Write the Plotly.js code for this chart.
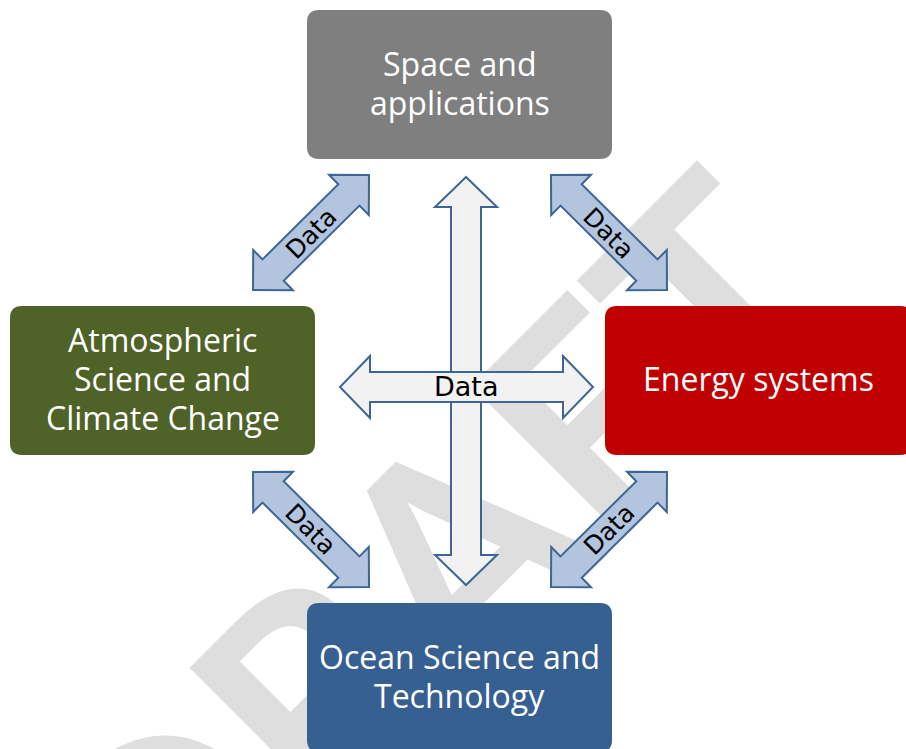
<!DOCTYPE html>
<html>
<head>
<meta charset="utf-8">
<script src="https://cdn.plot.ly/plotly-3.0.1.min.js"></script>
<style>
  html, body { margin: 0; padding: 0; background: #ffffff; }
  #chart { width: 906px; height: 749px; }
</style>
</head>
<body>
<div id="chart"></div>
<script>
// ---- content ----
const nodeLabels = [
  ["Space and", "applications"],
  ["Atmospheric", "Science and", "Climate Change"],
  ["Energy systems"],
  ["Ocean Science and", "Technology"]
];
const nodeColors = ["#7f7f7f", "#4f6228", "#c00000", "#376092"];
const linkLabels = ["Data", "Data", "Data", "Data", "Data"];
const watermarkText = "DRAFT";

// ---- geometry (layout of the diagram, in pixel-like axis units) ----
const boxes = [
  { x0: 307, y0: 10,  x1: 612, y1: 159 },
  { x0: 10,  y0: 306, x1: 315, y1: 455 },
  { x0: 605, y0: 306, x1: 912, y1: 455 },
  { x0: 307, y0: 603, x1: 612, y1: 752 }
];
const lineGap = 39;
const textLift = 2;
const diagArrows = [
  { a: [369, 175], b: [253, 290], label: [311, 233], angle: -45 },
  { a: [551, 175], b: [667, 290], label: [609, 233], angle: 45 },
  { a: [253, 472], b: [369, 587], label: [311, 529], angle: 45 },
  { a: [667, 472], b: [551, 587], label: [609, 529], angle: -45 }
];
const crossArrows = [
  { a: [466, 177], b: [466, 585], w: 15, h: 31, L: 30 },
  { a: [340, 387], b: [593, 387], w: 15, h: 31, L: 30 }
];

function roundRect(b, r) {
  const { x0, y0, x1, y1 } = b;
  return `M ${x0 + r},${y0} L ${x1 - r},${y0} Q ${x1},${y0} ${x1},${y0 + r} ` +
         `L ${x1},${y1 - r} Q ${x1},${y1} ${x1 - r},${y1} L ${x0 + r},${y1} ` +
         `Q ${x0},${y1} ${x0},${y1 - r} L ${x0},${y0 + r} Q ${x0},${y0} ${x0 + r},${y0} Z`;
}
function arrowPath(p1, p2, w, h, L) {
  const dx = p2[0] - p1[0], dy = p2[1] - p1[1];
  const len = Math.hypot(dx, dy);
  const ux = dx / len, uy = dy / len, nx = -uy, ny = ux;
  const P = (p, s, t) => [p[0] + s * ux + t * nx, p[1] + s * uy + t * ny];
  const pts = [
    p1, P(p1, L, h), P(p1, L, w), P(p2, -L, w), P(p2, -L, h),
    p2, P(p2, -L, -h), P(p2, -L, -w), P(p1, L, -w), P(p1, L, -h)
  ];
  return "M " + pts.map(p => p[0].toFixed(1) + "," + p[1].toFixed(1)).join(" L ") + " Z";
}

const shapes = [];
// watermark (behind everything)
shapes.push({
  type: "rect", xref: "x", yref: "y", layer: "below",
  x0: 414, x1: 434, y0: 559, y1: 579,
  line: { width: 0 }, fillcolor: "rgba(0,0,0,0)",
  label: {
    text: watermarkText, textangle: -45, textposition: "middle center",
    font: { family: "Lato", size: 298, weight: 700, color: "#dedede" }
  }
});
// diagonal arrows
diagArrows.forEach(d => {
  shapes.push({
    type: "path", xref: "x", yref: "y", layer: "above",
    path: arrowPath(d.a, d.b, 15, 28.3, 28.3),
    fillcolor: "#b3c4de", line: { color: "#3d6595", width: 2 }
  });
});
// cross arrows
crossArrows.forEach(c => {
  shapes.push({
    type: "path", xref: "x", yref: "y", layer: "above",
    path: arrowPath(c.a, c.b, c.w, c.h, c.L),
    fillcolor: "#f2f2f2", line: { color: "#3d6595", width: 2 }
  });
});
// boxes
boxes.forEach((b, i) => {
  shapes.push({
    type: "path", xref: "x", yref: "y", layer: "above",
    path: roundRect(b, 12),
    fillcolor: nodeColors[i], line: { width: 0 }
  });
});

const annotations = [];
boxes.forEach((b, i) => {
  const lines = nodeLabels[i];
  const cx = (b.x0 + b.x1) / 2, cy = (b.y0 + b.y1) / 2 - textLift;
  lines.forEach((t, k) => {
    annotations.push({
      xref: "x", yref: "y", x: cx, y: cy + (k - (lines.length - 1) / 2) * lineGap,
      text: t, showarrow: false, xanchor: "center", yanchor: "middle",
      font: { family: "Open Sans", size: 32, color: "#ffffff" }
    });
  });
});
diagArrows.forEach((d, i) => {
  annotations.push({
    xref: "x", yref: "y", x: d.label[0], y: d.label[1],
    text: linkLabels[i], showarrow: false, textangle: d.angle,
    xanchor: "center", yanchor: "middle",
    font: { family: "DejaVu Sans", size: 25, color: "#000000" }
  });
});
annotations.push({
  xref: "x", yref: "y", x: 466, y: 386,
  text: linkLabels[4], showarrow: false, xanchor: "center", yanchor: "middle",
  font: { family: "DejaVu Sans", size: 27, color: "#000000" }
});

const layout = {
  width: 906, height: 749,
  margin: { l: 0, r: 0, t: 0, b: 0 },
  paper_bgcolor: "#ffffff", plot_bgcolor: "#ffffff",
  xaxis: { range: [0, 906], visible: false, fixedrange: true },
  yaxis: { range: [749, 0], visible: false, fixedrange: true },
  showlegend: false,
  shapes: shapes,
  annotations: annotations
};

Plotly.newPlot("chart", [], layout, { displayModeBar: false, staticPlot: true });
</script>
</body>
</html>
